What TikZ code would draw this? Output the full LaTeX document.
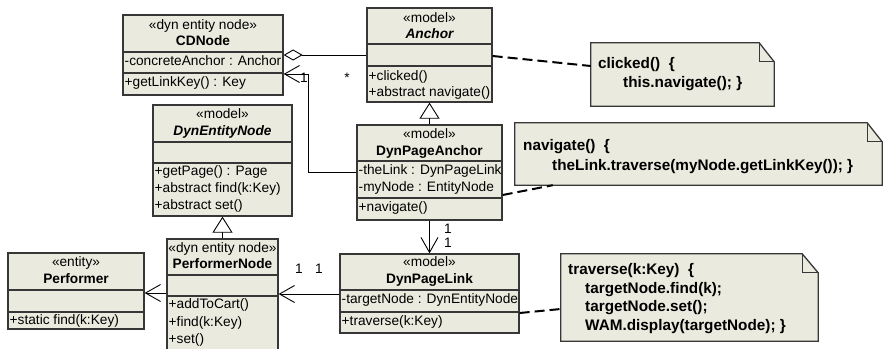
\documentclass[tikz,border=0pt]{standalone}
\usepackage{fontspec}
\setmainfont{Liberation Sans}
\usetikzlibrary{arrows.meta}
\definecolor{umlfill}{RGB}{235,234,222}
\definecolor{umlline}{RGB}{55,55,55}
\begin{document}
\begin{tikzpicture}[x=1pt,y=-1pt,
  cls/.style={draw=umlline, fill=umlfill, line width=1.3pt, inner sep=0pt, rectangle},
  sepline/.style={draw=umlline, line width=1.1pt},
  txt/.style={inner sep=0pt, font=\fontsize{13.7}{17}\selectfont, text height=9.8pt, text depth=2.9pt},
  mem/.style={txt, anchor=west},
  nm/.style={txt, font=\fontsize{13.7}{17}\selectfont\bfseries},
  anm/.style={txt, font=\fontsize{13.7}{17}\selectfont\bfseries\itshape},
  notebox/.style={inner sep=0pt, draw=none, rectangle},
  notedraw/.style={draw=umlline, fill=umlfill, line width=1.3pt, line join=miter},
  notetxt/.style={inner sep=0pt, anchor=west, font=\fontsize{15.3}{19}\selectfont\bfseries, text height=10.8pt, text depth=3.2pt},
  conn/.style={draw=black, line width=0.9pt},
  nav/.style={conn, -{Straight Barb[length=15pt,width=17pt,line width=0.9pt]}},
  gen/.style={conn, -{Triangle[open,length=16pt,width=20pt,fill=white,line width=0.9pt]}},
  agg/.style={conn, {Diamond[open,length=19pt,width=11pt,fill=white,line width=0.9pt]}-},
  notelink/.style={draw=black, line width=2pt, dash pattern=on 10pt off 5pt},
  lbl/.style={inner sep=0pt, font=\fontsize{13.7}{17}\selectfont}
]
\useasboundingbox (0,0) rectangle (883,348);

% ---------- CDNode ----------
\node[cls, minimum width=160pt, minimum height=80pt] (cd) at (203,55) {};
\draw[sepline] (cd.west |- 0,52) -- (cd.east |- 0,52);
\draw[sepline] (cd.west |- 0,73) -- (cd.east |- 0,73);
\node[txt] (cds) at (203,26) {«dyn entity node»};
\node[nm] (cdn) at (203,42) {CDNode};
\node[mem] (cda) at (124.5,62) {-concreteAnchor : Anchor};
\node[mem] (cdo) at (124.5,83) {+getLinkKey() : Key};

% ---------- Anchor ----------
\node[cls, minimum width=125pt, minimum height=94pt] (an) at (429.5,55) {};
\draw[sepline] (an.west |- 0,44) -- (an.east |- 0,44);
\draw[sepline] (an.west |- 0,66) -- (an.east |- 0,66);
\node[txt] (ans) at (429.5,19) {«model»};
\node[anm] (ann) at (429.5,35) {Anchor};
\node[mem] (ano1) at (368.5,77) {+clicked()};
\node[mem] (ano2) at (368.5,93) {+abstract navigate()};

% ---------- DynEntityNode ----------
\node[cls, minimum width=139pt, minimum height=111pt] (den) at (222.5,160.5) {};
\draw[sepline] (den.west |- 0,142) -- (den.east |- 0,142);
\draw[sepline] (den.west |- 0,163) -- (den.east |- 0,163);
\node[txt] (dens) at (222.5,115) {«model»};
\node[anm] (denn) at (222.5,132) {DynEntityNode};
\node[mem] (deno1) at (154.5,172) {+getPage() : Page};
\node[mem] (deno2) at (154.5,189) {+abstract find(k:Key)};
\node[mem] (deno3) at (154.5,206) {+abstract set()};

% ---------- DynPageAnchor ----------
\node[cls, minimum width=145pt, minimum height=95pt] (dpa) at (429.5,172.5) {};
\draw[sepline] (dpa.west |- 0,161) -- (dpa.east |- 0,161);
\draw[sepline] (dpa.west |- 0,198) -- (dpa.east |- 0,198);
\node[txt] (dpas) at (429.5,135) {«model»};
\node[nm] (dpan) at (429.5,152) {DynPageAnchor};
\node[mem] (dpaa1) at (358.5,171) {-theLink : DynPageLink};
\node[mem] (dpaa2) at (358.5,188) {-myNode : EntityNode};
\node[mem] (dpao) at (358.5,208) {+navigate()};

% ---------- DynPageLink ----------
\node[cls, minimum width=179pt, minimum height=79pt] (dpl) at (429.5,293.5) {};
\draw[sepline] (dpl.west |- 0,290) -- (dpl.east |- 0,290);
\draw[sepline] (dpl.west |- 0,312) -- (dpl.east |- 0,312);
\node[txt] (dpls) at (429.5,263) {«model»};
\node[nm] (dpln) at (429.5,280) {DynPageLink};
\node[mem] (dpla) at (341.5,300) {-targetNode : DynEntityNode};
\node[mem] (dplo) at (341.5,322) {+traverse(k:Key)};

% ---------- Performer ----------
\node[cls, minimum width=136pt, minimum height=76pt] (pf) at (76,291) {};
\draw[sepline] (pf.west |- 0,290) -- (pf.east |- 0,290);
\draw[sepline] (pf.west |- 0,312) -- (pf.east |- 0,312);
\node[txt] (pfs) at (76,263) {«entity»};
\node[nm] (pfn) at (76,280) {Performer};
\node[mem] (pfo) at (9.5,321) {+static find(k:Key)};

% ---------- PerformerNode ----------
\node[cls, minimum width=111pt, minimum height=115pt] (pn) at (222.5,296.5) {};
\draw[sepline] (pn.west |- 0,275) -- (pn.east |- 0,275);
\draw[sepline] (pn.west |- 0,296) -- (pn.east |- 0,296);
\node[txt] (pns) at (222.5,249) {«dyn entity node»};
\node[nm] (pnn) at (222.5,265) {PerformerNode};
\node[mem] (pno1) at (168.5,305) {+addToCart()};
\node[mem] (pno2) at (168.5,323) {+find(k:Key)};
\node[mem] (pno3) at (168.5,340) {+set()};

% ---------- Notes ----------
\node[notebox, minimum width=183pt, minimum height=63pt] (n1) at (682.5,74.5) {};
\draw[notedraw] (n1.north west) -- ([xshift=-15pt]n1.north east) -- ([yshift=-19pt]n1.north east) -- (n1.south east) -- (n1.south west) -- cycle;
\draw[notedraw, fill=none] ([xshift=-15pt]n1.north east) |- ([yshift=-19pt]n1.north east);
\node[notetxt] (n1t1) at (598,65) {clicked()\ \ {\{}};
\node[notetxt] (n1t2) at (623,84) {this.navigate(); \}};

\node[notebox, minimum width=367pt, minimum height=62pt] (n2) at (698.5,154) {};
\draw[notedraw] (n2.north west) -- ([xshift=-15pt]n2.north east) -- ([yshift=-19pt]n2.north east) -- (n2.south east) -- (n2.south west) -- cycle;
\draw[notedraw, fill=none] ([xshift=-15pt]n2.north east) |- ([yshift=-19pt]n2.north east);
\node[notetxt] (n2t1) at (523,147) {navigate()\ \ \{};
\node[notetxt] (n2t2) at (552,167) {theLink.traverse(myNode.getLinkKey()); \}};

\node[notebox, minimum width=257pt, minimum height=87pt] (n3) at (689.5,297.5) {};
\draw[notedraw] (n3.north west) -- ([xshift=-16pt]n3.north east) -- ([yshift=-19pt]n3.north east) -- (n3.south east) -- (n3.south west) -- cycle;
\draw[notedraw, fill=none] ([xshift=-16pt]n3.north east) |- ([yshift=-19pt]n3.north east);
\node[notetxt] (n3t1) at (568,271) {traverse(k:Key)\ \ \{};
\node[notetxt] (n3t2) at (585,290) {targetNode.find(k);};
\node[notetxt] (n3t3) at (585,308) {targetNode.set();};
\node[notetxt] (n3t4) at (585,327) {WAM.display(targetNode); \}};

% ---------- Connectors ----------
\draw[agg] (cd.east |- 0,55) -- (an.west |- 0,55);
\coordinate (bend) at (308,74);
\draw[nav] (dpa.west |- 0,172) -| (bend) -- (cd.east |- bend);
\node[lbl] (l1) at (304,78) {1};
\node[lbl] (l2) at (347,78) {*};

\draw[gen] (dpa.north) -- (an.south);
\draw[gen] (pn.north) -- (den.south);

\draw[nav] (dpa.south) -- (dpl.north);
\node[lbl] (l3) at (448,229) {1};
\node[lbl] (l4) at (448,243) {1};

\draw[nav] (dpl.west |- 0,294) -- (pn.east |- 0,294);
\node[lbl] (l5) at (299,269) {1};
\node[lbl] (l6) at (319,269) {1};

\draw[nav] (pn.west |- 0,293) -- (pf.east |- 0,293);

\draw[notelink] (an.east |- 0,56) -- (n1.west |- 0,66);
\draw[notelink] (dpa.east |- 0,195) -- ([xshift=38pt]n2.south west);
\draw[notelink] (dpl.east |- 0,313) -- (n3.west |- 0,309);
\end{tikzpicture}
\end{document}
